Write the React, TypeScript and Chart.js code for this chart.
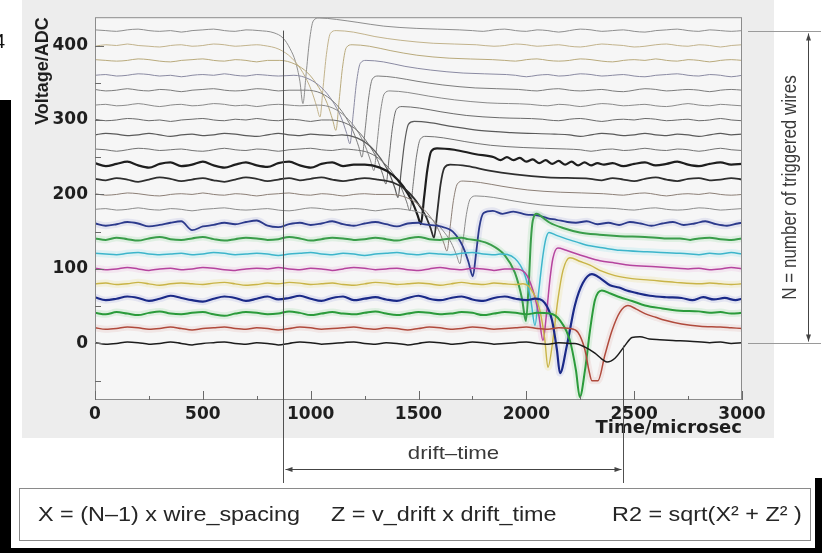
import { useEffect, useRef } from "react";
import { Chart, registerables } from "chart.js";

Chart.register(...registerables);

// ---------------- axes ----------------
const xTicks = [0, 500, 1000, 1500, 2000, 2500, 3000];
const xMinorTicks = [250, 750, 1250, 1750, 2250, 2750];
const yTicks = [0, 100, 200, 300, 400];
const yMinorTicks = [-50, 50, 150, 250, 350];
const xRange = [0, 3000];
const yRange = [-76, 438];
const xTitle = "Time/microsec";
const yTitle = "Voltage/ADC";

// ---------------- annotations ----------------
const markerTimes = [870, 2450];
const markerFrom = [420, -3];
const driftLabel = "drift–time";
const nLabel = "N = number of triggered wires";
const nSpan = [420, 0];
const formulas = ["X = (N–1) x wire_spacing", "Z = v_drift x drift_time", "R2 = sqrt(X² + Z² )"];

// ---------------- wire signals: [time µs, ADC] ----------------
const w000 = [[0,1],[50,-1],[100,0],[150,2],[200,1],[250,-1],[300,0],[350,2],[400,0],[450,-2],[500,0],[550,1],[600,2],[650,0],[700,-1],[750,1],[800,0],[850,-2],[900,0],[950,2],[1000,1],[1050,-1],[1100,0],[1150,1],[1200,2],[1250,0],[1300,-1],[1350,1],[1400,0],[1450,-2],[1500,0],[1550,2],[1600,1],[1650,-1],[1700,0],[1750,2],[1800,1],[1850,-1],[1900,0],[1950,1],[2000,2],[2050,0],[2100,-1],[2150,1],[2200,0],[2225,0],[2272,-5],[2318,-13],[2350,-21],[2374,-25],[2411,-20],[2457,-3],[2490,8],[2527,9],[2570,6],[2619,5],[2680,4],[2758,3],[2850,1],[2900,2],[2950,0],[3000,1]];
const w020 = [[0,21],[50,19],[100,20],[150,22],[200,21],[250,19],[300,20],[350,22],[400,20],[450,18],[500,20],[550,21],[600,22],[650,20],[700,19],[750,21],[800,20],[850,18],[900,20],[950,22],[1000,21],[1050,19],[1100,20],[1150,21],[1200,22],[1250,20],[1300,19],[1350,21],[1400,20],[1450,18],[1500,20],[1550,22],[1600,21],[1650,19],[1700,20],[1750,22],[1800,21],[1850,19],[1900,20],[1950,21],[2000,22],[2050,20],[2100,19],[2150,21],[2202,20],[2239,15],[2272,-9],[2290,-36],[2304,-50],[2332,-50],[2364,-16],[2397,17],[2434,42],[2471,51],[2510,46],[2550,40],[2600,35],[2643,31],[2720,26],[2805,23],[2900,22],[2950,21],[3000,20]];
const w040 = [[0,41],[50,39],[100,42],[150,40],[200,38],[250,41],[300,43],[350,40],[400,39],[450,41],[500,42],[550,39],[600,37],[650,40],[700,42],[750,41],[800,39],[850,40],[900,43],[950,41],[1000,38],[1050,40],[1100,42],[1150,40],[1200,39],[1250,41],[1300,43],[1350,40],[1400,38],[1450,40],[1500,42],[1550,41],[1600,39],[1650,40],[1700,42],[1750,41],[1800,38],[1850,40],[1900,42],[1950,41],[2000,39],[2050,41],[2109,40],[2156,31],[2202,4],[2230,-36],[2248,-72],[2272,-36],[2295,17],[2318,58],[2350,71],[2390,67],[2434,62],[2490,57],[2550,51],[2630,47],[2712,44],[2800,43],[2850,41],[2900,42],[2950,40],[3000,41]];
const w060 = [[0,62],[50,58],[100,60],[150,63],[200,61],[250,57],[300,60],[350,64],[400,61],[450,58],[500,56],[550,60],[600,63],[650,61],[700,57],[750,60],[800,63],[850,59],[900,61],[950,64],[1000,60],[1050,57],[1100,61],[1150,63],[1200,58],[1250,60],[1300,62],[1350,59],[1400,57],[1450,61],[1500,64],[1550,60],[1600,58],[1650,61],[1700,63],[1750,59],[1800,57],[1850,61],[1900,63],[1950,60],[2000,58],[2040,60],[2086,54],[2119,31],[2142,-9],[2156,-40],[2188,-3],[2225,51],[2262,81],[2304,93],[2345,87],[2388,78],[2430,75],[2466,71],[2520,67],[2573,64],[2650,62],[2720,61],[2770,58],[2820,62],[2870,59],[2920,61],[2970,58],[3000,60]];
const w080 = [[0,80],[50,81],[100,79],[150,80],[200,82],[250,80],[300,78],[350,80],[400,81],[450,80],[500,79],[550,81],[600,82],[650,80],[700,78],[750,79],[800,81],[850,80],[900,82],[950,81],[1000,79],[1050,80],[1100,81],[1150,79],[1200,78],[1250,80],[1300,82],[1350,81],[1400,79],[1450,80],[1500,81],[1550,80],[1600,78],[1650,80],[1700,82],[1750,80],[1800,79],[1850,81],[1900,80],[1950,79],[1984,80],[2026,71],[2063,44],[2086,4],[2100,-32],[2123,4],[2146,58],[2170,98],[2202,115],[2250,110],[2295,105],[2350,97],[2411,91],[2490,87],[2573,85],[2690,82],[2805,80],[2850,81],[2900,80],[2950,79],[3000,80]];
const w100 = [[0,101],[50,99],[100,100],[150,102],[200,100],[250,98],[300,100],[350,101],[400,99],[450,100],[500,102],[550,101],[600,99],[650,98],[700,100],[750,101],[800,100],[850,102],[900,100],[950,99],[1000,101],[1050,100],[1100,98],[1150,100],[1200,102],[1250,101],[1300,99],[1350,100],[1400,101],[1450,99],[1500,98],[1550,100],[1600,102],[1650,100],[1700,99],[1750,101],[1800,100],[1850,98],[1900,100],[1947,100],[1994,95],[2031,71],[2058,38],[2077,4],[2095,44],[2109,85],[2123,114],[2146,128],[2185,125],[2225,121],[2280,116],[2341,111],[2410,108],[2480,105],[2600,103],[2700,101],[2750,100],[2800,101],[2850,99],[2900,100],[2950,102],[3000,100]];
const w120 = [[0,121],[50,120],[100,119],[150,121],[200,122],[250,120],[300,119],[350,120],[400,121],[450,119],[500,120],[550,122],[600,121],[650,119],[700,120],[750,121],[800,120],[850,118],[900,120],[950,121],[1000,122],[1050,120],[1100,119],[1150,121],[1200,120],[1250,118],[1300,120],[1350,121],[1400,122],[1450,120],[1500,119],[1550,121],[1600,120],[1650,119],[1700,121],[1750,122],[1800,120],[1850,119],[1878,120],[1947,114],[1994,91],[2021,58],[2040,24],[2058,71],[2077,118],[2091,141],[2105,149],[2140,145],[2179,141],[2235,136],[2295,131],[2360,128],[2434,125],[2560,123],[2712,121],[2760,120],[2800,119],[2850,121],[2900,120],[2950,122],[3000,120]];
const w140 = [[0,141],[50,139],[100,142],[150,140],[200,138],[250,141],[300,143],[350,140],[400,139],[450,141],[500,143],[550,140],[600,138],[650,140],[700,142],[750,141],[800,139],[850,140],[900,143],[950,141],[1000,138],[1050,140],[1100,142],[1150,141],[1200,139],[1250,140],[1300,142],[1350,140],[1400,138],[1450,141],[1500,143],[1550,140],[1600,139],[1650,141],[1700,142],[1729,140],[1780,138],[1831,133],[1901,118],[1947,95],[1980,60],[1998,30],[2012,85],[2021,138],[2030,165],[2049,174],[2080,168],[2109,162],[2170,155],[2248,149],[2340,146],[2434,144],[2550,143],[2640,141],[2712,141],[2760,139],[2800,141],[2850,142],[2900,140],[2950,139],[3000,141]];
const w160 = [[0,161],[50,158],[100,160],[150,163],[200,161],[250,157],[300,159],[350,162],[400,164],[450,152],[500,157],[550,159],[600,162],[650,160],[700,163],[750,165],[800,158],[850,156],[900,160],[950,162],[1000,159],[1050,161],[1100,164],[1150,160],[1200,158],[1250,161],[1300,163],[1350,160],[1400,157],[1450,161],[1500,162],[1522,160],[1602,157],[1659,150],[1706,130],[1732,109],[1752,90],[1767,121],[1782,156],[1802,175],[1845,178],[1890,174],[1940,177],[2000,173],[2050,172],[2100,168],[2140,166],[2190,163],[2230,162],[2280,164],[2330,160],[2380,162],[2430,159],[2480,163],[2530,161],[2580,158],[2630,161],[2680,163],[2730,159],[2780,161],[2830,164],[2880,160],[2930,158],[2980,161],[3000,162]];
const w180 = [[0,180],[50,181],[100,179],[150,180],[200,182],[250,180],[300,179],[350,181],[400,180],[450,178],[500,180],[550,181],[600,182],[650,180],[700,179],[750,180],[800,181],[850,179],[900,178],[950,180],[1000,182],[1050,181],[1100,179],[1150,180],[1200,181],[1250,180],[1300,178],[1350,180],[1400,181],[1432,180],[1502,176],[1562,167],[1612,152],[1652,135],[1677,118],[1692,107],[1707,139],[1722,173],[1740,194],[1767,198],[1847,196],[1947,191],[2067,186],[2217,183],[2417,181],[2450,180],[2500,179],[2550,181],[2600,182],[2650,180],[2700,179],[2750,180],[2800,182],[2850,181],[2900,179],[2950,180],[3000,181]];
const w200 = [[0,201],[50,199],[100,200],[150,202],[200,201],[250,199],[300,198],[350,200],[400,201],[450,200],[500,202],[550,200],[600,199],[650,201],[700,200],[750,198],[800,200],[850,201],[900,202],[950,200],[1000,199],[1050,201],[1100,200],[1150,198],[1200,200],[1250,201],[1300,200],[1372,200],[1442,196],[1502,186],[1552,171],[1592,153],[1617,135],[1632,124],[1647,157],[1662,192],[1680,214],[1707,218],[1787,216],[1887,211],[2007,206],[2157,203],[2357,201],[2400,200],[2450,199],[2500,201],[2550,202],[2600,200],[2650,198],[2700,200],[2750,201],[2800,200],[2850,202],[2900,200],[2950,199],[3000,200]];
const w220 = [[0,221],[50,219],[100,222],[150,220],[200,217],[250,220],[300,223],[350,221],[400,218],[450,220],[500,222],[550,219],[600,217],[650,220],[700,223],[750,221],[800,218],[850,220],[900,222],[950,219],[1000,221],[1050,223],[1100,220],[1150,218],[1200,220],[1250,222],[1312,220],[1382,216],[1442,206],[1492,190],[1532,172],[1557,154],[1572,142],[1587,176],[1602,213],[1620,236],[1647,240],[1727,238],[1827,232],[1947,227],[2097,223],[2297,221],[2350,219],[2400,222],[2450,220],[2500,218],[2550,221],[2600,223],[2650,220],[2700,218],[2750,221],[2800,222],[2850,219],[2900,220],[2950,222],[3000,220]];
const w240 = [[0,242],[50,238],[100,241],[150,244],[200,239],[250,236],[300,241],[350,243],[400,238],[450,240],[500,244],[550,239],[600,236],[650,240],[700,243],[750,239],[800,237],[850,242],[900,244],[950,239],[1000,236],[1050,241],[1100,243],[1150,238],[1200,240],[1251,240],[1321,236],[1381,226],[1431,210],[1471,190],[1496,172],[1511,160],[1526,196],[1541,233],[1559,258],[1586,262],[1666,260],[1766,254],[1850,250],[1880,246],[1910,250],[1940,246],[1970,249],[2000,244],[2030,247],[2060,242],[2090,246],[2120,241],[2150,245],[2180,240],[2210,244],[2240,239],[2270,243],[2300,239],[2330,242],[2360,240],[2400,242],[2450,238],[2500,241],[2550,243],[2600,239],[2650,241],[2700,244],[2750,240],[2800,238],[2850,241],[2900,243],[2950,240],[3000,241]];
const w260 = [[0,261],[50,260],[100,258],[150,260],[200,262],[250,261],[300,259],[350,260],[400,261],[450,259],[500,258],[550,260],[600,262],[650,260],[700,259],[750,261],[800,260],[850,258],[900,260],[950,261],[1000,262],[1050,260],[1100,259],[1150,261],[1200,260],[1270,256],[1330,245],[1380,229],[1420,209],[1445,190],[1460,178],[1475,213],[1490,250],[1508,274],[1535,278],[1615,276],[1715,271],[1835,266],[1985,263],[2185,261],[2250,260],[2300,258],[2350,260],[2400,261],[2450,259],[2500,260],[2550,262],[2600,260],[2650,259],[2700,261],[2750,260],[2800,258],[2850,260],[2900,262],[2950,260],[3000,259]];
const w280 = [[0,280],[50,282],[100,281],[150,279],[200,280],[250,282],[300,280],[350,278],[400,280],[450,281],[500,279],[550,280],[600,282],[650,281],[700,279],[750,278],[800,280],[850,282],[900,280],[950,279],[1000,281],[1050,280],[1100,279],[1145,280],[1215,276],[1275,265],[1325,248],[1365,228],[1390,209],[1405,196],[1420,232],[1435,269],[1453,294],[1480,298],[1560,296],[1660,291],[1780,286],[1930,283],[2130,281],[2200,280],[2250,278],[2300,280],[2350,282],[2400,281],[2450,279],[2500,280],[2550,282],[2600,280],[2650,279],[2700,281],[2750,280],[2800,278],[2850,280],[2900,282],[2950,280],[3000,281]];
const w300 = [[0,301],[50,299],[100,300],[150,302],[200,301],[250,299],[300,300],[350,298],[400,300],[450,301],[500,302],[550,300],[600,299],[650,301],[700,300],[750,302],[800,300],[850,299],[900,301],[950,300],[1000,298],[1050,300],[1089,300],[1159,296],[1219,285],[1269,267],[1309,247],[1334,227],[1349,214],[1364,250],[1379,289],[1397,314],[1424,318],[1504,316],[1604,311],[1724,306],[1874,303],[2074,301],[2100,300],[2150,299],[2200,301],[2250,302],[2300,300],[2350,298],[2400,300],[2450,301],[2500,300],[2550,302],[2600,301],[2650,299],[2700,300],[2750,301],[2800,299],[2850,300],[2900,302],[2950,300],[3000,299]];
const w320 = [[0,320],[50,321],[100,319],[150,320],[200,322],[250,320],[300,318],[350,320],[400,321],[450,319],[500,320],[550,322],[600,321],[650,319],[700,320],[750,318],[800,320],[850,321],[900,320],[950,319],[1033,320],[1103,316],[1163,304],[1213,287],[1253,265],[1278,245],[1293,232],[1308,269],[1323,309],[1341,335],[1368,339],[1448,337],[1548,332],[1668,327],[1818,323],[2018,321],[2050,320],[2100,319],[2150,321],[2200,320],[2250,318],[2300,320],[2350,322],[2400,321],[2450,319],[2500,320],[2550,321],[2600,319],[2650,318],[2700,320],[2750,322],[2800,320],[2850,319],[2900,321],[2950,320],[3000,319]];
const w340 = [[0,341],[50,339],[100,340],[150,342],[200,340],[250,339],[300,341],[350,340],[400,338],[450,340],[500,341],[550,342],[600,340],[650,339],[700,340],[750,342],[800,341],[850,339],[900,340],[978,340],[1048,336],[1108,324],[1158,306],[1198,284],[1223,264],[1238,250],[1253,288],[1268,328],[1286,355],[1313,359],[1393,357],[1493,352],[1613,347],[1763,343],[1963,341],[2000,340],[2050,339],[2100,341],[2150,342],[2200,340],[2250,339],[2300,340],[2350,341],[2400,339],[2450,338],[2500,340],[2550,342],[2600,341],[2650,339],[2700,340],[2750,341],[2800,340],[2850,338],[2900,340],[2950,341],[3000,340]];
const w360 = [[0,360],[50,361],[100,359],[150,360],[200,362],[250,361],[300,359],[350,360],[400,358],[450,360],[500,361],[550,360],[600,362],[650,360],[700,359],[750,361],[800,360],[850,359],[922,360],[992,355],[1052,343],[1102,325],[1142,303],[1167,282],[1182,268],[1197,307],[1212,349],[1230,376],[1257,380],[1337,378],[1437,372],[1557,367],[1707,363],[1907,361],[1950,360],[2000,358],[2050,360],[2100,361],[2150,359],[2200,360],[2250,362],[2300,361],[2350,359],[2400,360],[2450,361],[2500,359],[2550,358],[2600,360],[2650,361],[2700,362],[2750,360],[2800,359],[2850,361],[2900,360],[2950,358],[3000,360]];
const w380 = [[0,381],[50,380],[100,379],[150,380],[200,382],[250,381],[300,379],[350,378],[400,380],[450,381],[500,382],[550,380],[600,379],[650,381],[700,380],[750,378],[800,380],[857,380],[927,375],[987,363],[1037,344],[1077,322],[1102,300],[1117,286],[1132,326],[1147,369],[1165,397],[1192,401],[1272,399],[1372,393],[1492,387],[1642,383],[1842,381],[1900,380],[1950,379],[2000,381],[2050,382],[2100,380],[2150,379],[2200,380],[2250,382],[2300,381],[2350,379],[2400,378],[2450,380],[2500,381],[2550,380],[2600,382],[2650,380],[2700,379],[2750,381],[2800,380],[2850,378],[2900,380],[2950,381],[3000,380]];
const w400 = [[0,399],[50,401],[100,400],[150,402],[200,400],[250,399],[300,398],[350,400],[400,401],[450,399],[500,400],[550,402],[600,401],[650,399],[700,400],[750,401],[783,400],[853,395],[913,383],[963,364],[1003,340],[1028,318],[1043,304],[1058,345],[1073,388],[1091,416],[1118,420],[1198,418],[1298,412],[1418,407],[1568,403],[1768,401],[1850,399],[1900,400],[1950,402],[2000,401],[2050,399],[2100,400],[2150,401],[2200,399],[2250,398],[2300,400],[2350,402],[2400,401],[2450,400],[2500,398],[2550,399],[2600,401],[2650,402],[2700,400],[2750,399],[2800,401],[2850,400],[2900,398],[2950,400],[3000,401]];
const w420 = [[0,421],[50,420],[100,419],[150,421],[200,422],[250,420],[300,419],[350,420],[400,418],[450,420],[500,421],[550,422],[600,420],[650,419],[700,421],[760,420],[830,417],[872,410],[904,396],[930,378],[950,352],[964,322],[979,362],[994,405],[1012,433],[1039,437],[1119,435],[1219,431],[1339,426],[1489,423],[1689,421],[1750,420],[1800,419],[1850,421],[1900,422],[1950,420],[2000,419],[2050,421],[2100,420],[2150,418],[2200,420],[2250,422],[2300,421],[2350,419],[2400,420],[2450,421],[2500,419],[2550,418],[2600,420],[2650,421],[2700,422],[2750,420],[2800,419],[2850,421],[2900,420],[2950,419],[3000,420]];

const wires = [w000, w020, w040, w060, w080, w100, w120, w140, w160, w180, w200, w220, w240, w260, w280, w300, w320, w340, w360, w380, w400, w420];

// ---------------- styles ----------------
const wireColors = ["#1c1c1c", "#b04a3c", "#2b9b3b", "#1b2a88", "#c9b447", "#b5449e", "#3db5cb", "#3a9d4a", "#2c3a8c", "#8c8c8c", "#8c7f76", "#2e2e2e", "#1e1e1e", "#727272", "#5a5a5a", "#6a6a6a", "#8a8a8a", "#7c7c7c", "#8a8aa2", "#b9aa7c", "#c2b38c", "#8e8e8e"];
const wireWidths = [1.5, 1.5, 2, 2.2, 1.4, 1.5, 1.5, 2, 1.8, 1, 1, 1.8, 2.2, 1, 1.2, 1, 1, 1, 1, 1, 1, 1];
const haloColors = [null, "rgba(200,90,80,0.10)", "rgba(60,190,70,0.12)", "rgba(60,70,200,0.10)", "rgba(230,210,90,0.16)", "rgba(220,90,190,0.10)", "rgba(80,210,230,0.14)", "rgba(60,190,80,0.12)", "rgba(70,80,190,0.10)"];

const FONT_SANS = "'Liberation Sans', Arial, sans-serif";
const FONT_WIDE = "'DejaVu Sans', Verdana, sans-serif";

function drawStretched(ctx: CanvasRenderingContext2D, text: string, x: number, y: number, sx: number, align: CanvasTextAlign) {
  ctx.save();
  ctx.translate(x, y);
  ctx.scale(sx, 1);
  ctx.textAlign = align;
  ctx.fillText(text, 0, 0);
  ctx.restore();
}

function arrowHead(ctx: CanvasRenderingContext2D, x: number, y: number, dx: number, dy: number) {
  const len = 7, hw = 2.5;
  const px = -dy, py = dx;
  ctx.beginPath();
  ctx.moveTo(x, y);
  ctx.lineTo(x - dx * len + px * hw, y - dy * len + py * hw);
  ctx.lineTo(x - dx * len - px * hw, y - dy * len - py * hw);
  ctx.closePath();
  ctx.fill();
}

const decorPlugin = {
  id: "decor",
  beforeDraw(chart: any) {
    const { ctx, chartArea: a, width, height } = chart;
    ctx.save();
    ctx.fillStyle = "#ffffff";
    ctx.fillRect(0, 0, width, height);
    ctx.fillStyle = "#ededed";
    ctx.fillRect(22, 0, 752, 438);
    ctx.fillStyle = "#f6f6f6";
    ctx.fillRect(a.left, a.top, a.right - a.left, a.bottom - a.top);
    ctx.restore();
  },
  afterDatasetsDraw(chart: any) {
    const { ctx, chartArea: a, scales } = chart;
    const xs = scales.x, ys = scales.y;
    ctx.save();
    ctx.strokeStyle = "#8c8c8c";
    ctx.lineWidth = 1;
    ctx.strokeRect(a.left + 0.5, a.top + 0.5, a.right - a.left - 1, a.bottom - a.top - 1);
    ctx.strokeStyle = "#6a6a6a";
    ctx.beginPath();
    xTicks.forEach((v) => { const p = Math.round(xs.getPixelForValue(v)) + 0.5; ctx.moveTo(p, a.bottom); ctx.lineTo(p, a.bottom - 9); });
    xMinorTicks.forEach((v) => { const p = Math.round(xs.getPixelForValue(v)) + 0.5; ctx.moveTo(p, a.bottom); ctx.lineTo(p, a.bottom - 4); });
    yTicks.forEach((v) => { const p = Math.round(ys.getPixelForValue(v)) + 0.5; ctx.moveTo(a.left, p); ctx.lineTo(a.left + 9, p); });
    yMinorTicks.forEach((v) => { const p = Math.round(ys.getPixelForValue(v)) + 0.5; ctx.moveTo(a.left, p); ctx.lineTo(a.left + 6, p); });
    ctx.stroke();

    ctx.fillStyle = "#ffffff";
    ctx.fillRect(19, 488, 792, 52);
    ctx.strokeStyle = "#8a8a8a";
    ctx.strokeRect(19.5, 488.5, 791, 52);

    const mx = markerTimes.map((t) => Math.round(xs.getPixelForValue(t)) + 0.5);
    ctx.strokeStyle = "#505050";
    ctx.beginPath();
    mx.forEach((p, i) => { ctx.moveTo(p, ys.getPixelForValue(markerFrom[i])); ctx.lineTo(p, 483); });
    ctx.stroke();
    const ay = 469.5;
    ctx.strokeStyle = "#444";
    ctx.fillStyle = "#444";
    ctx.beginPath();
    ctx.moveTo(mx[0] + 2, ay);
    ctx.lineTo(mx[1] - 2, ay);
    ctx.stroke();
    arrowHead(ctx, mx[0] + 2, ay, -1, 0);
    arrowHead(ctx, mx[1] - 2, ay, 1, 0);
    ctx.fillStyle = "#3a3a3a";
    ctx.font = `19px ${FONT_SANS}`;
    ctx.textBaseline = "middle";
    drawStretched(ctx, driftLabel, (mx[0] + mx[1]) / 2, 454, 1.17, "center");

    const yT = Math.round(ys.getPixelForValue(nSpan[0])) + 0.5;
    const yB = Math.round(ys.getPixelForValue(nSpan[1])) + 0.5;
    ctx.strokeStyle = "#9a9a9a";
    ctx.beginPath();
    ctx.moveTo(748, yT); ctx.lineTo(821, yT);
    ctx.moveTo(748, yB); ctx.lineTo(821, yB);
    ctx.stroke();
    ctx.strokeStyle = "#444";
    ctx.fillStyle = "#444";
    ctx.beginPath();
    ctx.moveTo(808.5, yT + 2); ctx.lineTo(808.5, yB - 2);
    ctx.stroke();
    arrowHead(ctx, 808.5, yT + 2, 0, -1);
    arrowHead(ctx, 808.5, yB - 2, 0, 1);
    ctx.save();
    ctx.translate(791, (yT + yB) / 2);
    ctx.rotate(-Math.PI / 2);
    ctx.scale(1, 1.17);
    ctx.fillStyle = "#3a3a3a";
    ctx.font = `17px ${FONT_SANS}`;
    ctx.textAlign = "center";
    ctx.textBaseline = "middle";
    ctx.fillText(nLabel, 0, 0);
    ctx.restore();

    ctx.fillStyle = "#262626";
    ctx.font = `20px ${FONT_SANS}`;
    ctx.textBaseline = "alphabetic";
    const fx = [38, 331, 612];
    formulas.forEach((f, i) => drawStretched(ctx, f, fx[i], 521, 1.17, "left"));

    ctx.fillStyle = "#000000";
    ctx.fillRect(0, 100, 11, 453);
    ctx.fillRect(0, 548, 822, 5);
    ctx.fillRect(815, 478, 7, 75);
    ctx.fillStyle = "#111";
    ctx.font = `20px ${FONT_SANS}`;
    ctx.textAlign = "left";
    ctx.fillText("4", -6, 48);
    ctx.restore();
  },
};

export default function App() {
  const ref = useRef<HTMLCanvasElement | null>(null);
  useEffect(() => {
    if (!ref.current) return;
    const datasets: any[] = [];
    wires.forEach((w, i) => {
      datasets.push({
        data: w.map(([x, y]) => ({ x, y })),
        borderColor: wireColors[i],
        borderWidth: wireWidths[i],
        pointRadius: 0,
        cubicInterpolationMode: "monotone",
        borderJoinStyle: "round",
        fill: false,
        order: 0,
      });
    });
    wires.forEach((w, i) => {
      const c = haloColors[i];
      if (!c) return;
      datasets.push({
        data: w.map(([x, y]) => ({ x, y })),
        borderColor: c,
        borderWidth: 7,
        pointRadius: 0,
        cubicInterpolationMode: "monotone",
        fill: false,
        order: 1,
      });
    });
    const chart = new Chart(ref.current, {
      type: "line",
      data: { datasets },
      plugins: [decorPlugin],
      options: {
        animation: false,
        responsive: false,
        devicePixelRatio: 1,
        events: [],
        layout: { padding: { left: 30, top: 17, right: 80, bottom: 113 } },
        plugins: { legend: { display: false }, tooltip: { enabled: false } },
        scales: {
          x: {
            type: "linear",
            min: xRange[0],
            max: xRange[1],
            afterBuildTicks: (s: any) => { s.ticks = xTicks.map((v) => ({ value: v })); },
            afterFit: (s: any) => { s.height = 40; },
            grid: { display: false, drawTicks: false },
            border: { display: false },
            ticks: { color: "#1e1e1e", padding: 4, callback: (v: any) => String(v), font: { family: FONT_WIDE, weight: "bold", size: 17 } },
            title: { display: true, text: xTitle, align: "end", color: "#1e1e1e", padding: { top: 0, bottom: 1 }, font: { family: FONT_WIDE, weight: "bold", size: 18 } },
          },
          y: {
            type: "linear",
            min: yRange[0],
            max: yRange[1],
            afterBuildTicks: (s: any) => { s.ticks = yTicks.map((v) => ({ value: v })); },
            afterFit: (s: any) => { s.width = 65; },
            grid: { display: false, drawTicks: false },
            border: { display: false },
            ticks: { color: "#1e1e1e", padding: 7, callback: (v: any) => String(v), font: { family: FONT_WIDE, weight: "bold", size: 17 } },
            title: { display: true, text: yTitle, align: "end", color: "#1e1e1e", padding: { top: 2, bottom: 0 }, font: { family: FONT_SANS, weight: "bold", size: 18 } },
          },
        },
      } as any,
    });
    return () => chart.destroy();
  }, []);
  return (
    <div style={{ position: "fixed", left: 0, top: 0, width: 822, height: 553 }}>
      <canvas ref={ref} width={822} height={553} style={{ display: "block", width: 822, height: 553 }} />
    </div>
  );
}
